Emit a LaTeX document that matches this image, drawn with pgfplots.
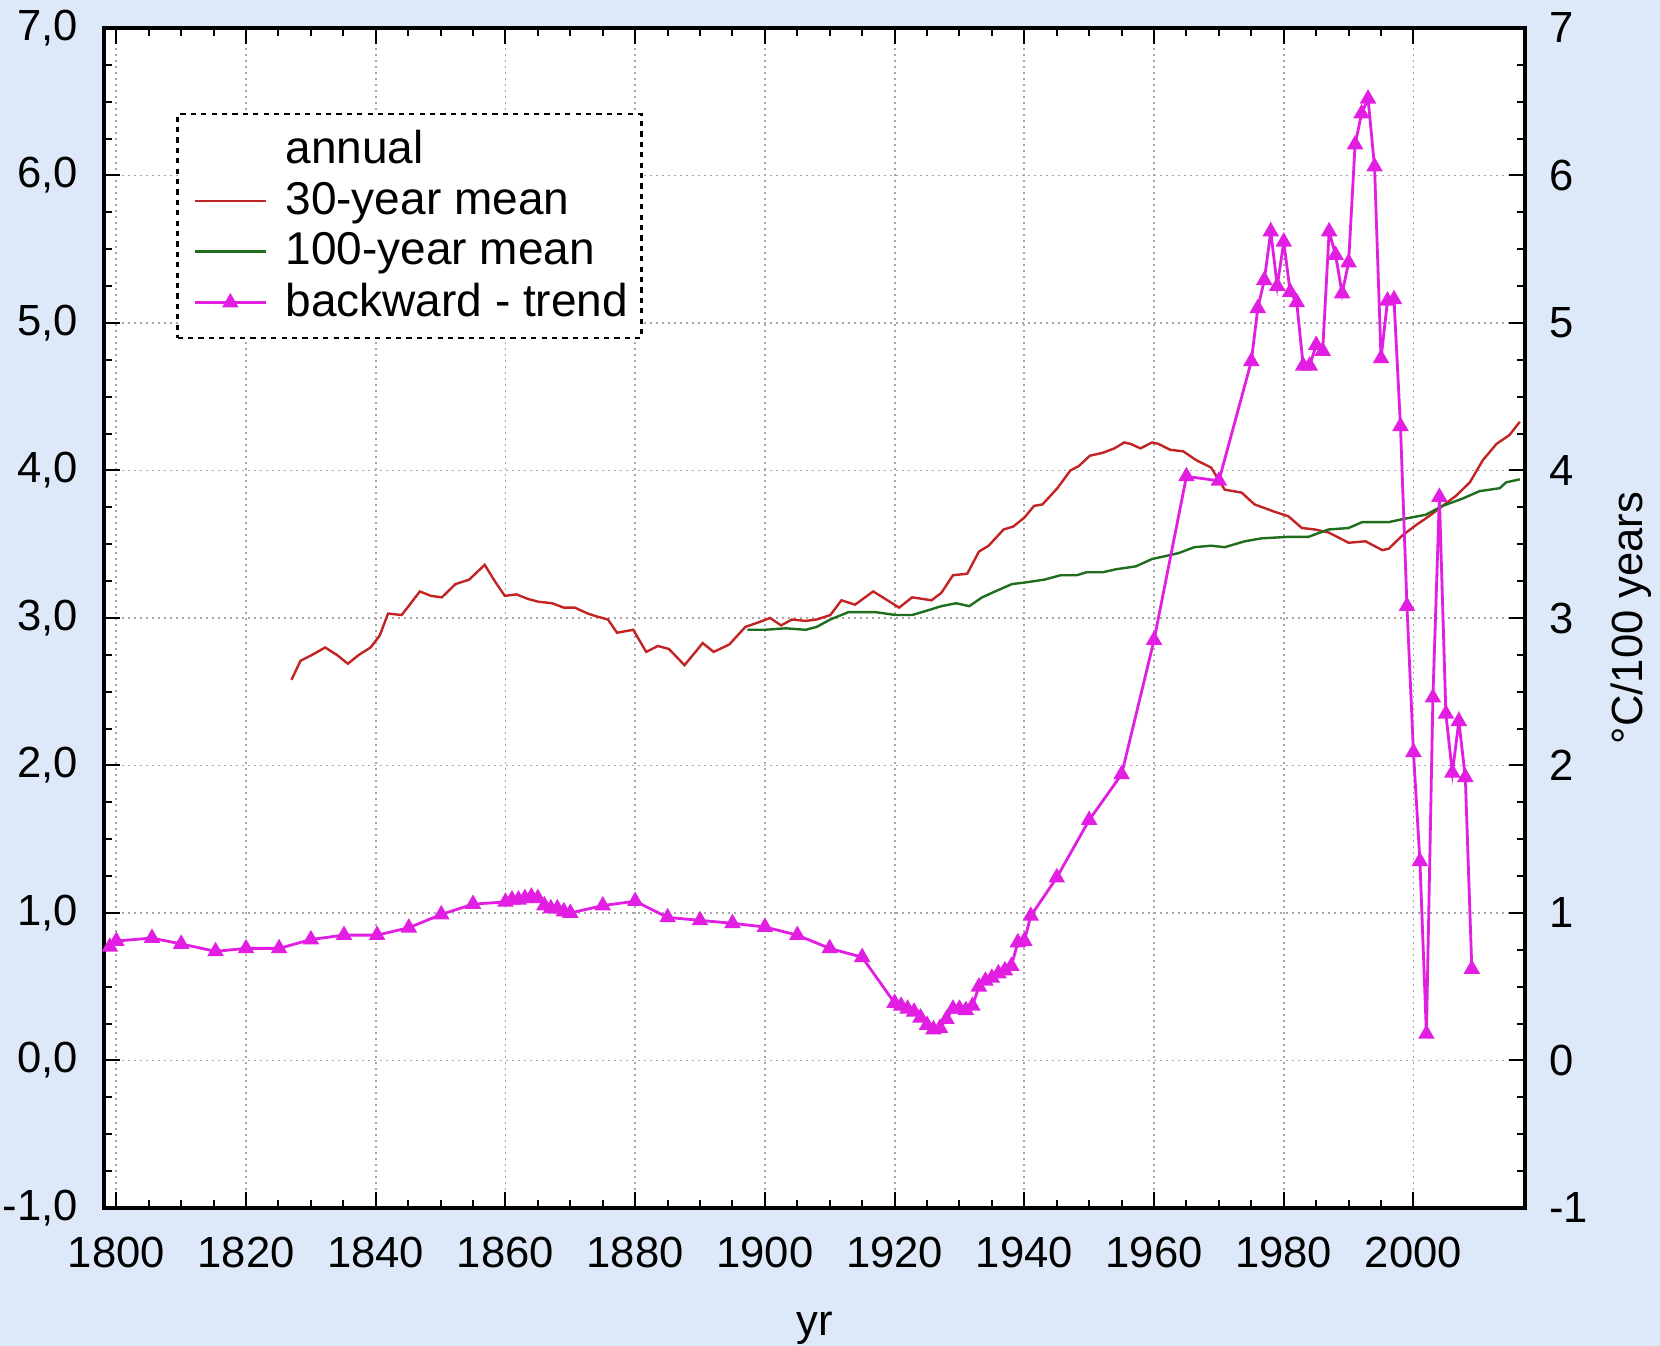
\documentclass[border=0pt]{standalone}
\usepackage{pgfplots}
\pgfplotsset{compat=1.18}
\usepackage{fontspec}
\setmainfont{Liberation Sans}
\definecolor{bgblue}{RGB}{221,232,248}
\definecolor{myred}{RGB}{195,35,35}
\definecolor{mygreen}{RGB}{30,110,30}
\definecolor{mymag}{RGB}{225,30,225}
\begin{document}
\begin{tikzpicture}[x=1pt,y=1pt]
\useasboundingbox (0,0) rectangle (415,336.5);
\fill[bgblue] (0,0) rectangle (415,336.5);
\begin{axis}[
  at={(26pt,34.5pt)}, anchor=south west,
  scale only axis, width=355.25pt, height=295pt,
  xmin=1798.1, xmax=2017.2, ymin=-1, ymax=7,
  axis background/.style={fill=white},
  xtick={1800,1820,...,2000}, ytick={-1,0,...,7},
  minor x tick num=3, minor y tick num=3,
  tick align=inside, xtick pos=both, ytick pos=both,
  major tick length=4pt, minor tick length=2pt,
  tick style={black, line width=0.5pt},
  grid=major,
  major grid style={gray!70, line width=0.45pt, dash pattern=on 0.6pt off 0.9pt},
  axis line style={black, line width=0.9pt},
  xticklabel style={yshift=-3.8pt, /pgf/number format/1000 sep={}},
  yticklabel style={xshift=-3pt, /pgf/number format/.cd, fixed, fixed zerofill, precision=1, use comma},
  /pgf/number format/assume math mode=true,
  ticklabel style={font=\fontsize{10.9}{12}\selectfont},
  legend style={at={(0.051,0.928)}, anchor=north west, draw=black,
    dash pattern=on 1.3pt off 1.3pt, line width=0.6pt, fill=white,
    font=\fontsize{11.5}{13}\selectfont, row sep=-0.9pt, inner xsep=1.4pt, inner ysep=2pt,
    nodes={solid}},
  legend image post style={solid},
  legend cell align=left,
  legend image code/.code={%
    \draw[mark repeat=2, mark phase=2, #1] plot coordinates {(0cm,0cm) (0.31cm,0cm) (0.62cm,0cm)};
    \path (-2.6pt,0cm) (0.62cm+2.6pt,0cm);},
]
\addlegendimage{empty legend}
\addlegendentry{annual}
\addplot[myred, line width=0.6pt, solid] coordinates {
(1827,2.58) (1828.4,2.71) (1830.2,2.75) (1832.2,2.80) (1834,2.75) (1835.7,2.69)
(1837.4,2.75) (1839.2,2.80) (1840.6,2.88) (1841.9,3.03) (1844,3.02) (1846.8,3.18)
(1848.5,3.15) (1850.2,3.14) (1852.3,3.23) (1854.4,3.26) (1856.8,3.36) (1858.5,3.24)
(1859.9,3.15) (1861.7,3.16) (1863.4,3.13) (1865.1,3.11) (1867.2,3.10) (1869,3.07)
(1870.7,3.07) (1872.7,3.03) (1874.1,3.01) (1875.8,2.99) (1877.2,2.90) (1879.7,2.92)
(1881.7,2.77) (1883.5,2.81) (1885.2,2.79) (1887.6,2.68) (1889.3,2.77) (1890.4,2.83)
(1892.1,2.77) (1894.5,2.82) (1897,2.94) (1899,2.97) (1900.8,3.00) (1902.5,2.95)
(1904.2,2.99) (1906.3,2.98) (1908,2.99) (1910.1,3.02) (1911.8,3.12) (1913.9,3.09)
(1916.7,3.18) (1918.9,3.12) (1920.7,3.07) (1922.7,3.14) (1924.2,3.13) (1925.7,3.12)
(1927.2,3.17) (1929,3.29) (1931.2,3.30) (1933,3.45) (1934.5,3.49) (1936.8,3.60)
(1938.3,3.62) (1940,3.68) (1941.5,3.76) (1942.8,3.77) (1945.1,3.88) (1947.1,4.00)
(1948.4,4.03) (1950.1,4.10) (1952.1,4.12) (1953.9,4.15) (1955.4,4.19) (1956.4,4.18)
(1957.9,4.15) (1959.7,4.19) (1960.7,4.18) (1962.5,4.14) (1964.5,4.13) (1966.5,4.07)
(1968.8,4.02) (1970.9,3.87) (1973.5,3.85) (1975.5,3.77) (1978.6,3.72) (1980.7,3.69)
(1982.8,3.61) (1984.8,3.60) (1986.9,3.58) (1990,3.51) (1992.6,3.52) (1995.2,3.46)
(1996.2,3.47) (1998.3,3.56) (2000.4,3.63) (2002.4,3.69) (2004.5,3.76) (2006.6,3.83)
(2008.7,3.92) (2010.7,4.07) (2012.8,4.18) (2014.8,4.24) (2016.4,4.33)
};
\addlegendentry{30-year mean}
\addplot[mygreen, line width=0.6pt, solid] coordinates {
(1897.3,2.92) (1900,2.92) (1903.2,2.93) (1906.3,2.92) (1908,2.94) (1910.1,2.99)
(1912.9,3.04) (1917,3.04) (1920.2,3.02) (1922.7,3.02) (1925,3.05) (1927.2,3.08)
(1929.5,3.10) (1931.5,3.08) (1933.5,3.14) (1935.5,3.18) (1938.1,3.23) (1940,3.24)
(1943.1,3.26) (1945.6,3.29) (1948.1,3.29) (1949.6,3.31) (1952.1,3.31) (1954.1,3.33)
(1957.2,3.35) (1959.7,3.40) (1961.8,3.42) (1963.8,3.44) (1966.2,3.48) (1968.8,3.49)
(1970.9,3.48) (1974,3.52) (1976.6,3.54) (1980.7,3.55) (1983.8,3.55) (1986.9,3.60)
(1990,3.61) (1992.1,3.65) (1996.2,3.65) (1998.3,3.67) (2001.9,3.70) (2004.5,3.76)
(2007.6,3.81) (2010.2,3.86) (2013.3,3.88) (2014.3,3.92) (2016.4,3.94)
};
\addlegendentry{100-year mean}
\addplot[mymag, line width=0.7pt, solid, mark=triangle*, mark size=1.7pt,
  mark options={fill=mymag, draw=mymag}] coordinates {
(1799,0.77) (1800,0.81) (1805.5,0.83) (1810,0.79) (1815.3,0.74) (1820,0.76)
(1825.1,0.76) (1830,0.82) (1835.1,0.85) (1840.2,0.85) (1845.1,0.90) (1850.1,0.99)
(1855,1.06) (1860,1.075) (1861,1.09) (1862,1.09) (1863,1.10) (1864,1.11) (1865,1.10)
(1866,1.05) (1867,1.03) (1868,1.03) (1869,1.01) (1870,1.00) (1875,1.05) (1880,1.08)
(1885,0.97) (1890,0.95) (1895,0.93) (1900,0.905) (1905,0.85) (1910,0.76) (1915,0.70)
(1920,0.39) (1921,0.37) (1922,0.35) (1923,0.33) (1924,0.29) (1925,0.24) (1926,0.21)
(1927,0.22) (1928,0.28) (1929,0.35) (1930,0.35) (1931,0.34) (1932,0.37) (1933,0.50)
(1934,0.54) (1935,0.56) (1936,0.59) (1937,0.61) (1938,0.64) (1939,0.80) (1940,0.81)
(1941,0.98) (1945,1.24) (1950,1.63) (1955,1.94) (1960,2.85) (1965,3.96) (1970,3.93)
(1975,4.74) (1976,5.10) (1977,5.29) (1978,5.62) (1979,5.25) (1980,5.55) (1981,5.21)
(1982,5.14) (1983,4.71) (1984,4.71) (1985,4.85) (1986,4.81) (1987,5.62) (1988,5.46)
(1989,5.20) (1990,5.41) (1991,6.21) (1992,6.42) (1993,6.52) (1994,6.06) (1995,4.76)
(1996,5.15) (1997,5.16) (1998,4.30) (1999,3.08) (2000,2.09) (2001,1.35) (2002,0.18)
(2003,2.46) (2004,3.82) (2005,2.35) (2006,1.95) (2007,2.30) (2008,1.92) (2009,0.62)
};
\addlegendentry{backward - trend}
\end{axis}
\begin{axis}[
  at={(26pt,34.5pt)}, anchor=south west,
  scale only axis, width=355.25pt, height=295pt,
  xmin=1798.1, xmax=2017.2, ymin=-1, ymax=7,
  axis x line=none, axis y line*=right,
  axis line style={black, line width=0.9pt},
  ytick={-1,0,...,7}, major tick length=0pt,
  /pgf/number format/assume math mode=true,
  ticklabel style={font=\fontsize{10.9}{12}\selectfont},
  yticklabel style={xshift=2.5pt},
]
\addplot[draw=none] coordinates {(1900,0)};
\end{axis}
\node[font=\fontsize{10.9}{12}\selectfont] at (203.6,4.5) {yr};
\node[font=\fontsize{10.9}{12}\selectfont, rotate=90] at (407.8,182) {°C/100 years};
\end{tikzpicture}
\end{document}
